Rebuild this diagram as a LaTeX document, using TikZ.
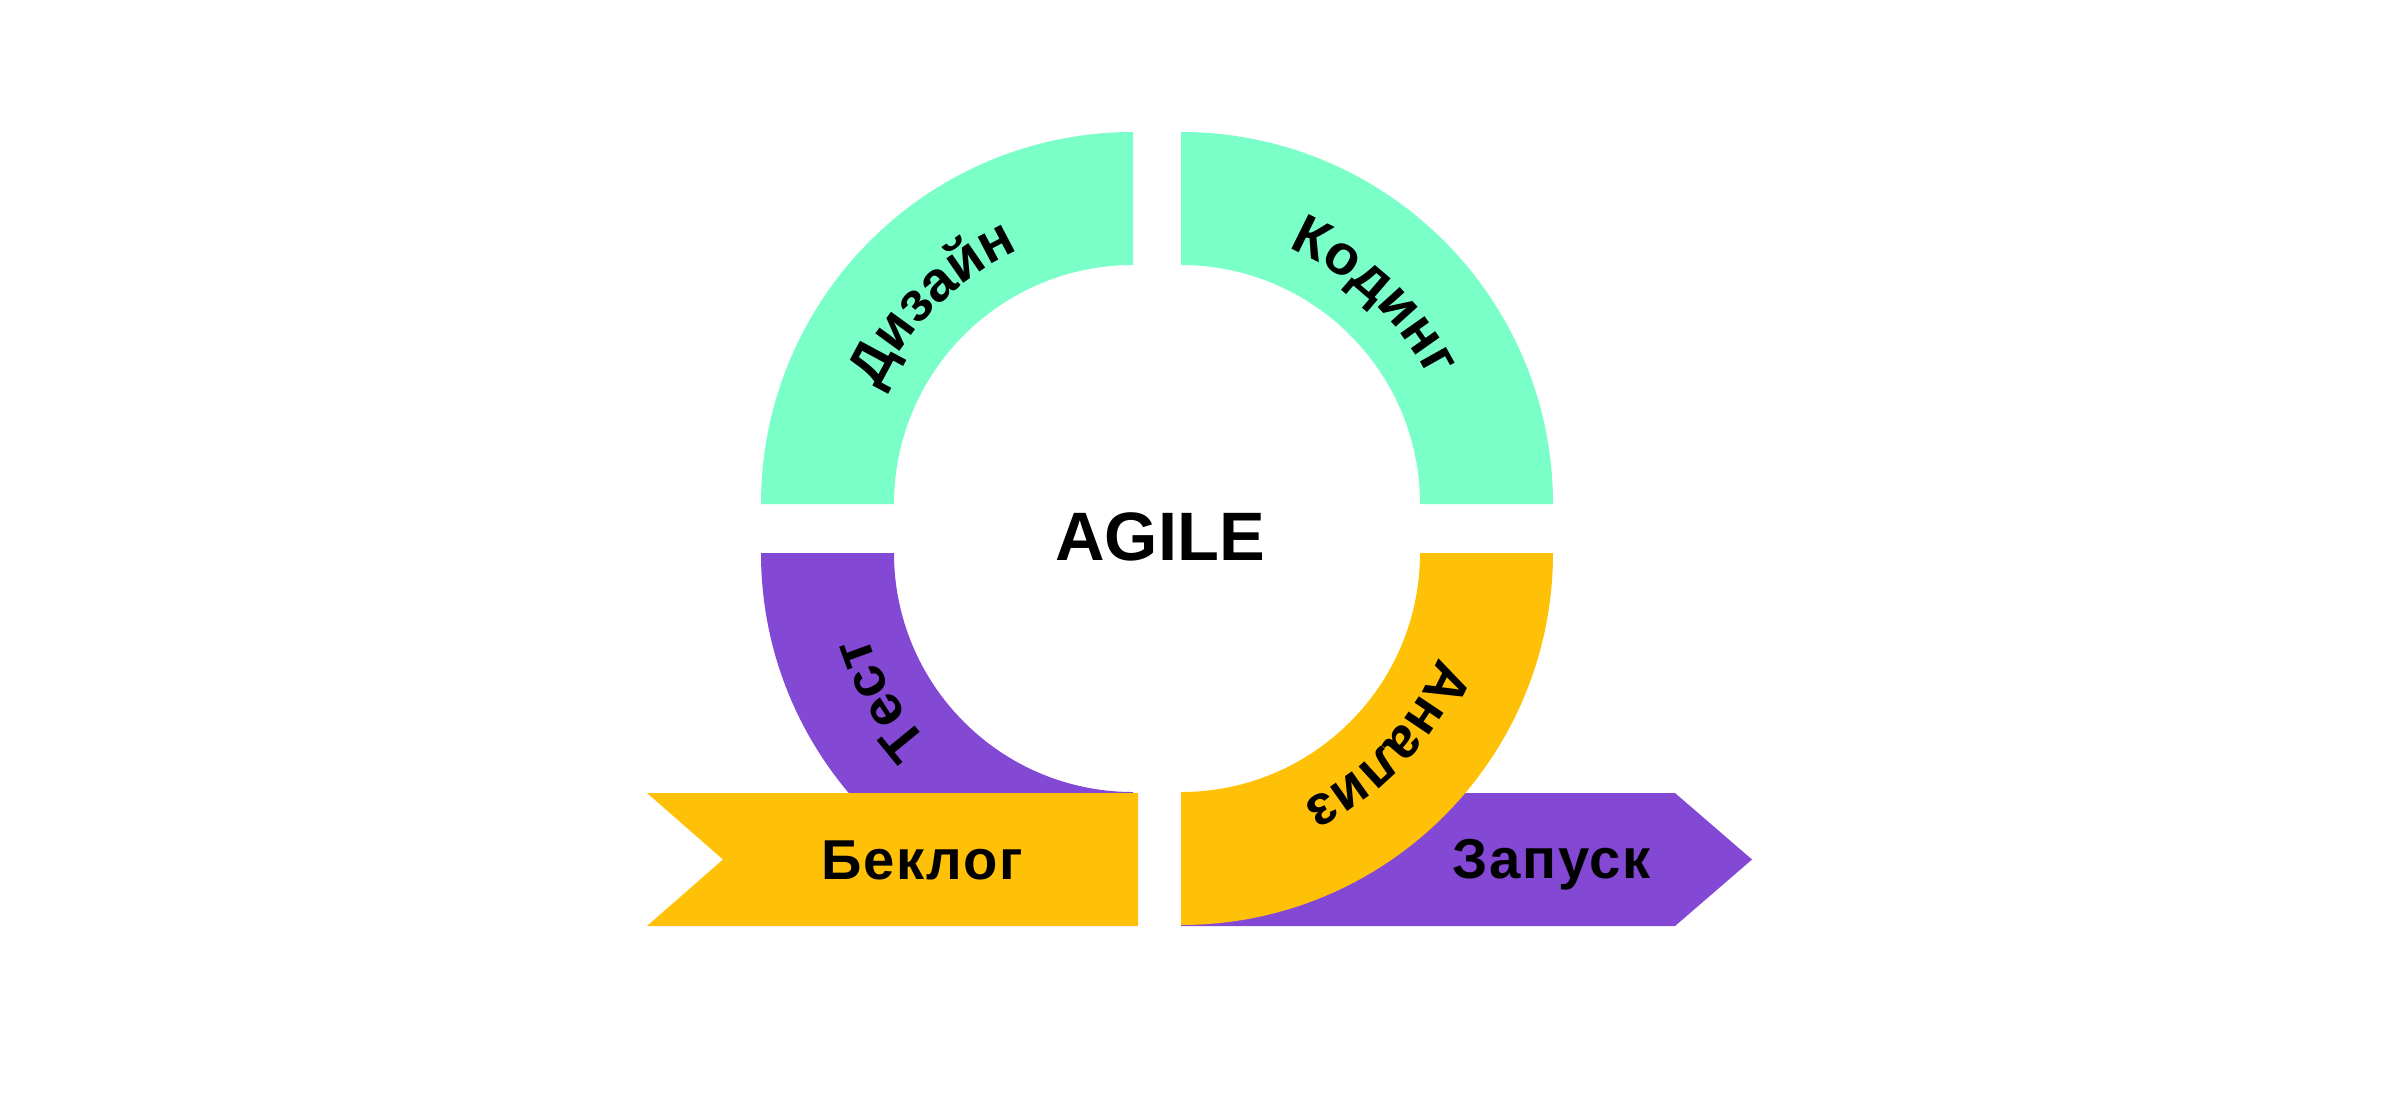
\documentclass[tikz,border=0pt]{standalone}
\usepackage{fontspec}
\setmainfont{Liberation Sans}
\newfontfamily\spacedfont{Liberation Sans}[LetterSpace=3]
\usetikzlibrary{decorations.text}
\definecolor{agilemint}{RGB}{122,255,201}
\definecolor{agileviolet}{RGB}{131,72,212}
\definecolor{agileamber}{RGB}{255,193,7}
\newcommand{\stagefont}{\spacedfont\fontsize{16}{19}\selectfont\bfseries}
% one quarter of the ring: colour, centre, start angle
\newcommand{\quarter}[3]{%
  \fill[#1, shift={#2}] (#3:3.72) arc[start angle=#3, end angle=#3+90, radius=3.72]
    -- (#3+90:2.39) arc[start angle=#3+90, end angle=#3, radius=2.39] -- cycle;}
\tikzset{
  stage/.style={
      decorate,
      decoration={text along path, text align=center, text={|\stagefont|#1}}
  },
  bannertext/.style={
      font=\stagefont,
      anchor=base,
      inner sep=0pt
  },
  title/.style={
      font=\fontsize{19.5}{23}\selectfont\bfseries,
      anchor=base,
      inner sep=0pt
  }
}
\begin{document}
\begin{tikzpicture}
      \useasboundingbox (-11.57,5.285) rectangle (12.43,-5.815);
      \coordinate (tl) at (-0.24,0.245);
      \coordinate (tr) at (0.24,0.245);
      \coordinate (bl) at (-0.24,-0.245);
      \coordinate (br) at (0.24,-0.245);

      % Ring
      \quarter{agilemint}{(tl)}{90}
      \quarter{agilemint}{(tr)}{0}
      \quarter{agileviolet}{(bl)}{180}

      % Banners
      \fill[agileamber] (-5.10,-2.645) -- (-0.19,-2.645) -- (-0.19,-3.975) -- (-5.10,-3.975) -- (-4.34,-3.31) -- cycle;
      \fill[agileviolet] (0.24,-2.645) -- (5.18,-2.645) -- (5.95,-3.31) -- (5.18,-3.975) -- (0.24,-3.975) -- cycle;
      \quarter{agileamber}{(br)}{270}

      % Labels
      \path[shift={(tl)}, stage=Дизайн] (175:2.78) arc[start angle=175, end angle=95, radius=2.78];
      \path[shift={(tr)}, stage=Кодинг] (87:2.78) arc[start angle=87, end angle=7, radius=2.78];
      \path[shift={(br)}, stage=Анализ] (-3:2.78) arc[start angle=-3, end angle=-83, radius=2.78];
      \path[shift={(bl)}, stage=Тест] (250:2.78) arc[start angle=250, end angle=170, radius=2.78];
      \node[title] (agile) at (0.03,-0.315) {AGILE};
      \node[bannertext] (backlog) at (-2.35,-3.505) {Беклог};
      \node[bannertext] (launch) at (3.95,-3.495) {Запуск};
\end{tikzpicture}
\end{document}
